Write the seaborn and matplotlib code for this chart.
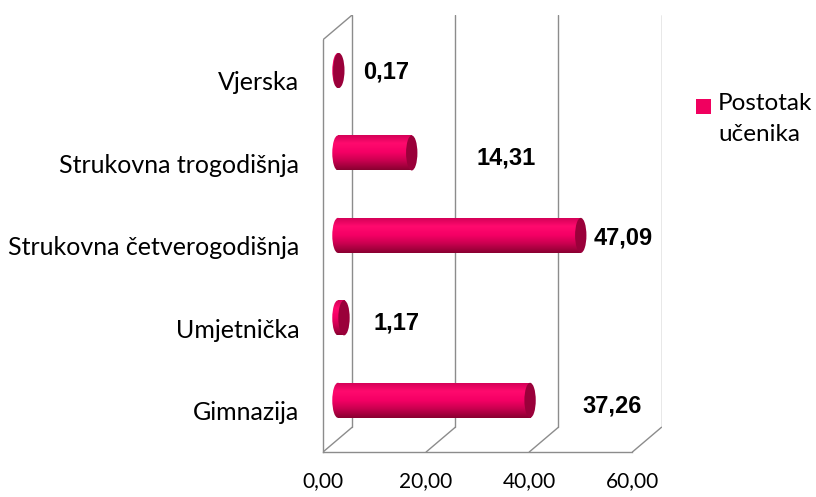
import numpy as np
import seaborn as sns
import matplotlib.pyplot as plt
from matplotlib.colors import LinearSegmentedColormap
from matplotlib.patches import Ellipse, Rectangle

# data (top to bottom as in the chart)
categories = ['Vjerska', 'Strukovna trogodišnja', 'Strukovna četverogodišnja', 'Umjetnička', 'Gimnazija']
values = [0.17, 14.31, 47.09, 1.17, 37.26]
value_labels = ['0,17', '14,31', '47,09', '1,17', '37,26']
x_ticks = [0, 20, 40, 60]
x_ticklabels = ['0,00', '20,00', '40,00', '60,00']
series_name = 'Postotak\nučenika'

# layout of the fake 3d box
DX = 5.65      # depth offset in x units
DY = -0.30     # depth offset in category units
BAR_DX = 2.9
BAR_DY = -0.127
BAR_H = 0.425
CAP_W = 2.2
label_x = [12.2, 35.6, 58.2, 14.2, 56.1]
label_dy = [-0.11, -0.07, -0.1, -0.06, -0.06]
grid_c = '#8c8c8c'
bar_c = '#f0005f'
cap_c = '#9a003a'
shade = LinearSegmentedColormap.from_list(
    'cyl', ['#d00055', '#ff0a6e', '#f50065', '#c8004f', '#8a0031'])

sns.set_style('white')
plt.rcParams['font.family'] = ['Lato', 'DejaVu Sans']
plt.rcParams['text.color'] = 'black'
plt.rcParams['xtick.color'] = 'black'
plt.rcParams['ytick.color'] = 'black'

fig = plt.figure(figsize=(8.16, 4.97), dpi=100)
ax = fig.add_axes([323 / 816, 45 / 497, 338.5 / 816, 437 / 497])

sns.barplot(x=values, y=categories, orient='h', color=bar_c, width=BAR_H,
            linewidth=0, saturation=1, ax=ax)

grad = np.linspace(0, 1, 64).reshape(-1, 1)

# cylinders: shift to mid depth, shade, add end caps
for p, v in zip(ax.patches, values):
    p.set_x(p.get_x() + BAR_DX)
    p.set_y(p.get_y() + BAR_DY)
    x0, y0, h = p.get_x(), p.get_y(), p.get_height()
    yc = y0 + h / 2
    left = Ellipse((x0, yc), CAP_W, h, lw=0, facecolor='none')
    ax.add_patch(left)
    for clip in (p, left):
        im = ax.imshow(grad, cmap=shade, aspect='auto', zorder=2,
                       extent=[x0 - CAP_W, x0 + v, y0 + h, y0])
        im.set_clip_path(clip)
    ax.add_patch(Ellipse((x0 + v, yc), CAP_W, h, color=cap_c, lw=0, zorder=3))

ax.set_xlim(0, 60 + DX)
ax.set_ylim(4.5, -0.5 + DY)

# back wall and floor lines
for v in x_ticks:
    ax.plot([v + DX, v + DX], [4.5 + DY, -0.5 + DY], color=grid_c, lw=1, zorder=0)
    ax.plot([v, v + DX], [4.5, 4.5 + DY], color=grid_c, lw=1, zorder=0)
ax.plot([0, DX], [-0.5, -0.5 + DY], color=grid_c, lw=1, zorder=0)

for sp in ['top', 'right']:
    ax.spines[sp].set_visible(False)
ax.spines['left'].set_bounds(4.5, -0.5)
ax.spines['bottom'].set_bounds(0, 60)
for sp in ['left', 'bottom']:
    ax.spines[sp].set_color(grid_c)
    ax.spines[sp].set_linewidth(1)

ax.set_xticks(x_ticks)
ax.set_xticklabels(x_ticklabels)
ax.set_yticks([i - 0.5 for i in range(6)], minor=True)
ax.tick_params(axis='x', direction='out', length=5, color=grid_c, pad=9, labelsize=15)
ax.tick_params(axis='y', which='major', length=0, pad=17, labelsize=18)
ax.tick_params(axis='y', which='minor', direction='out', length=5, color=grid_c)

for i, (lx, t) in enumerate(zip(label_x, value_labels)):
    ax.text(lx, i + label_dy[i], t, ha='center', va='center', fontsize=17,
            fontweight='bold', family='Liberation Sans')

# legend
fig.add_artist(Rectangle((696 / 816, 1 - 114 / 497), 15 / 816, 15 / 497,
                         transform=fig.transFigure, color=bar_c, lw=0))
fig.text(718 / 816, 1 - 93 / 497, series_name, ha='left', va='top', fontsize=17.5,
         linespacing=1.6)

fig.savefig('out.png', dpi=100)
